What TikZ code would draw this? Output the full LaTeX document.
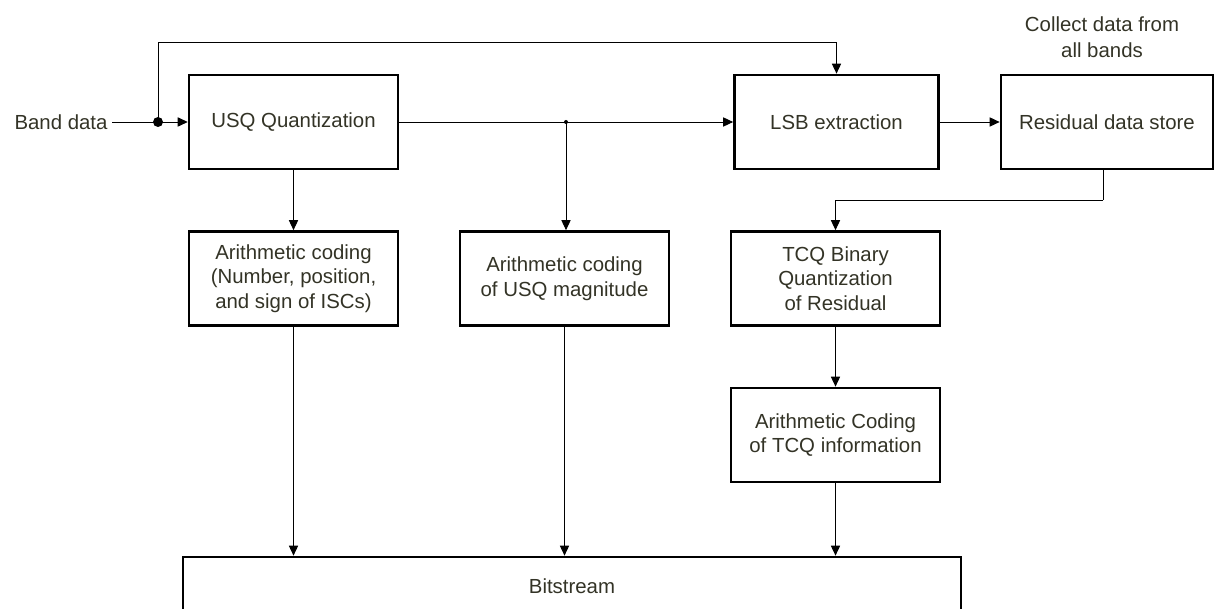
\documentclass[tikz,border=0pt]{standalone}
\usepackage{fontspec}
\setmainfont{Liberation Sans}
\usepackage{tikz}
\usetikzlibrary{arrows.meta,positioning,calc}
\definecolor{txtgray}{RGB}{51,51,38}

\begin{document}
\begin{tikzpicture}[x=0.025cm, y=-0.025cm,
  blk/.style={rectangle, draw, line width=1.9pt, fill=white, minimum width=5.22cm, minimum height=2.35cm, inner sep=0pt, align=center, text=txtgray, font=\fontsize{14.5}{17.5}\selectfont},
  lab/.style={align=center, text=txtgray, font=\fontsize{14.5}{18.5}\selectfont},
  flow/.style={line width=0.7pt, -{Triangle[length=2.5mm, width=2.3mm]}},
  wire/.style={line width=0.7pt}]
  \useasboundingbox (0,0) rectangle (1216,609);
  % top row
  \node[lab] (band) at (61,122) {Band data};
  \node[blk] (usq) at (293.5,122) {USQ Quantization};
  \node[blk, minimum width=5.1cm] (lsb) at (836.5,122) {LSB extraction};
  \node[blk, minimum width=5.3cm] (res) at (1107,122) {Residual data store};
  \node[lab] (collect) at (1102,37) {Collect data from\\all bands};
  % second row
  \node[blk] (ac1) at (293.5,278.5) {Arithmetic coding\\(Number, position,\\and sign of ISCs)};
  \node[blk] (acm) at (564.5,278.5) {Arithmetic coding\\of USQ magnitude};
  \node[blk] (tcq) at (835.5,278.5) {TCQ Binary\\Quantization\\of Residual};
  \node[blk] (act) at (835.5,435) {Arithmetic Coding\\of TCQ information};
  % output
  \node[blk, minimum width=19.45cm, minimum height=1.45cm] (bit) at (572,586) {Bitstream};
  % junctions
  \coordinate (split) at (158,122);
  \coordinate (tap) at (566,122);
  \coordinate (bend) at (1103,200);
  \fill (split) circle (5);
  \fill (tap) circle (2);
  % connectors
  \draw[wire] (band.east) -- (split);
  \draw[flow] (split) -- (usq.west);
  \draw[flow] (split) -- (158,42) -| (lsb.north);
  \draw[flow] (usq.east) -- (lsb.west);
  \draw[flow] (lsb.east) -- (res.west);
  \draw[flow] (usq.south) -- (ac1.north);
  \draw[flow] (tap) -- (tap |- acm.north);
  \draw[wire] (res.south -| bend) -- (bend);
  \draw[flow] (bend) -| (tcq.north);
  \draw[flow] (tcq.south) -- (act.north);
  \draw[flow] (ac1.south) -- (ac1.south |- bit.north);
  \draw[flow] (acm.south) -- (acm.south |- bit.north);
  \draw[flow] (act.south) -- (act.south |- bit.north);
\end{tikzpicture}
\end{document}
